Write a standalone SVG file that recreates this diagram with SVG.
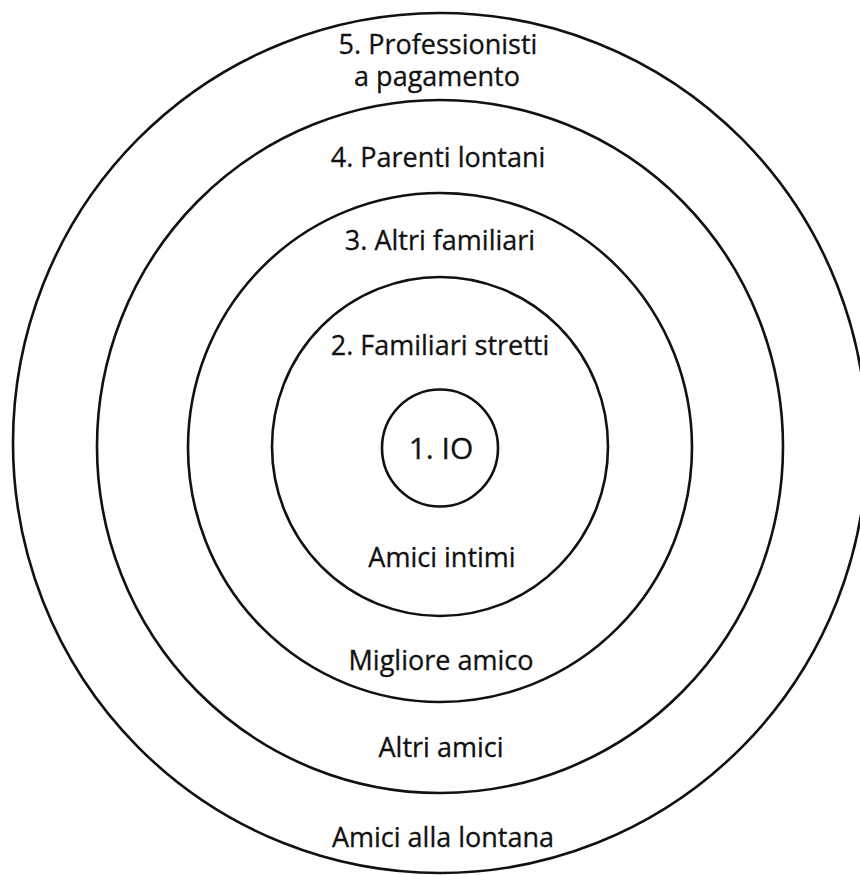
<svg xmlns="http://www.w3.org/2000/svg" width="860" height="875" viewBox="0 0 860 875">
<style>
.ring{fill:none;stroke:#111;stroke-width:2.6}
.lbl{font-family:"Open Sans","Noto Sans","Liberation Sans",sans-serif;font-size:27px;fill:#111;stroke:#111;stroke-width:0.3;text-anchor:middle}
</style>
<rect width="860" height="875" fill="#fff"/>
<g id="ring5"><ellipse class="ring" cx="440" cy="443" rx="427" ry="430"/>
<text class="lbl" x="438" y="54">5. Professionisti</text>
<text class="lbl" x="437" y="86">a pagamento</text>
<text class="lbl" x="443" y="847">Amici alla lontana</text></g>
<g id="ring4"><ellipse class="ring" cx="440" cy="446.5" rx="343" ry="346.5"/>
<text class="lbl" x="438" y="167">4. Parenti lontani</text>
<text class="lbl" x="441" y="757">Altri amici</text></g>
<g id="ring3"><ellipse class="ring" cx="440" cy="447.5" rx="252" ry="254.5"/>
<text class="lbl" x="440" y="250">3. Altri familiari</text>
<text class="lbl" x="441" y="670">Migliore amico</text></g>
<g id="ring2"><ellipse class="ring" cx="440" cy="446.5" rx="168" ry="169.5"/>
<text class="lbl" x="440" y="355">2. Familiari stretti</text>
<text class="lbl" x="442" y="567">Amici intimi</text></g>
<g id="ring1"><ellipse class="ring" cx="440" cy="448" rx="58" ry="58.5"/>
<text class="lbl" x="441" y="459" style="font-size:30px">1. IO</text></g>
<g id="connectors"></g>
</svg>
